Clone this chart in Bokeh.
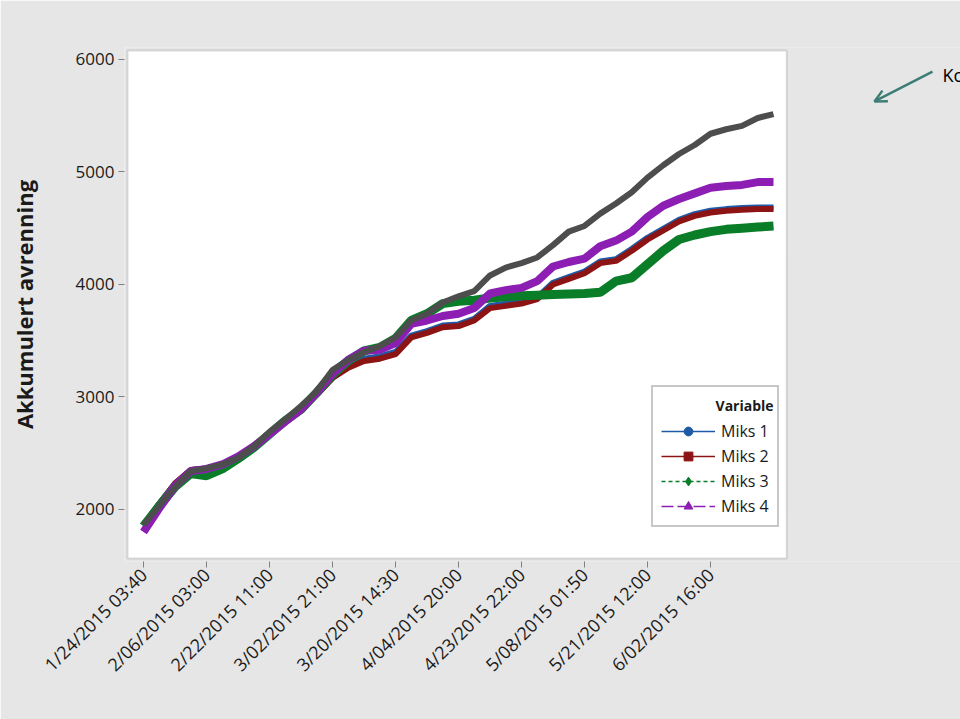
import math
from bokeh.plotting import figure
from bokeh.models import (ColumnDataSource, FixedTicker, Legend, LegendItem, Label,
                          Arrow, OpenHead, Range1d, BoxAnnotation)
from bokeh.embed import file_html
from bokeh.resources import INLINE

# ---------------- data ----------------
tick_labels = ["1/24/2015 03:40", "2/06/2015 03:00", "2/22/2015 11:00", "3/02/2015 21:00",
               "3/20/2015 14:30", "4/04/2015 20:00", "4/23/2015 22:00", "5/08/2015 01:50",
               "5/21/2015 12:00", "6/02/2015 16:00"]
tick_pos = [0, 1, 2, 3, 4, 5, 6, 7, 8, 9]

t = [i * 0.25 for i in range(41)]

miks2 = [1860, 2050, 2230, 2350, 2365, 2400, 2460, 2550, 2670, 2780, 2880, 3020, 3170,
         3260, 3320, 3340, 3380, 3530, 3570, 3620, 3630, 3680, 3790, 3810, 3830, 3870,
         4000, 4050, 4100, 4190, 4210, 4300, 4400, 4480, 4560, 4610, 4640, 4655, 4665,
         4670, 4670]
miks1 = [1860, 2050, 2230, 2350, 2365, 2400, 2460, 2550, 2670, 2780, 2880, 3020, 3170,
         3265, 3340, 3360, 3400, 3545, 3585, 3635, 3645, 3695, 3810, 3830, 3850, 3885,
         4015, 4065, 4115, 4205, 4225, 4315, 4415, 4495, 4575, 4625, 4655, 4670, 4680,
         4685, 4685]
miks3 = [1850, 2030, 2200, 2320, 2300, 2360, 2450, 2550, 2670, 2790, 2890, 3040, 3200,
         3320, 3410, 3440, 3520, 3680, 3740, 3830, 3850, 3860, 3880, 3890, 3900, 3905,
         3910, 3915, 3920, 3930, 4030, 4060, 4180, 4300, 4400, 4440, 4470, 4490, 4500,
         4510, 4520]
miks4 = [1800, 2010, 2210, 2340, 2360, 2400, 2470, 2560, 2670, 2780, 2890, 3040, 3210,
         3330, 3410, 3420, 3480, 3650, 3680, 3720, 3740, 3790, 3920, 3950, 3970, 4030,
         4160, 4200, 4230, 4340, 4390, 4470, 4600, 4700, 4760, 4810, 4860, 4875, 4885,
         4910, 4910]
total = [1860, 2030, 2200, 2340, 2365, 2400, 2460, 2560, 2690, 2800, 2920, 3050, 3240,
         3330, 3400, 3450, 3530, 3680, 3740, 3840, 3895, 3940, 4080, 4150, 4190, 4240,
         4350, 4470, 4520, 4630, 4720, 4820, 4950, 5060, 5160, 5240, 5340, 5380, 5410,
         5480, 5515]

series_names = ["Miks 1", "Miks 2", "Miks 3", "Miks 4"]
legend_title = "Variable"
side_text = "Ko"
colors = ["#1f5aa6", "#8c1414", "#0a7d28", "#8c1eb4"]
gray = "#4d4d4d"

BG = "#e6e6e6"
FONT = "Open Sans"
EDGE = "#8f8f8f"

X0, X1 = -0.254, 10.21       # visible plot box
Y0, Y1 = 1564, 6080
PAD_X = 3 / 63.0             # 3 px margin so the box border is not clipped
PAD_Y = 3 / 0.1125

p = figure(width=960, height=719, output_backend="svg", toolbar_location=None,
           x_range=Range1d(X0 - PAD_X, X0 - PAD_X + (960 - 124) / 63.0),
           y_range=Range1d(Y0 - PAD_Y, Y1 + PAD_Y),
           min_border_left=124, min_border_right=0, min_border_top=47,
           min_border_bottom=158)
p.background_fill_color = BG
p.border_fill_color = BG
p.outline_line_color = None
p.grid.visible = False

# white plot box with grey border
p.add_layout(BoxAnnotation(left=X0, right=X1, bottom=Y0, top=Y1, fill_color="white",
                           fill_alpha=1, line_color=EDGE, line_width=2,
                           level="underlay"))

src = ColumnDataSource(dict(t=t, m1=miks1, m2=miks2, m3=miks3, m4=miks4, tot=total))
p.line("t", "m1", source=src, line_color=colors[0], line_width=6)
p.line("t", "m2", source=src, line_color=colors[1], line_width=6)
p.line("t", "m3", source=src, line_color=colors[2], line_width=9)
p.line("t", "m4", source=src, line_color=colors[3], line_width=8)
p.line("t", "tot", source=src, line_color=gray, line_width=6)

# axes
p.xaxis.ticker = FixedTicker(ticks=tick_pos)
p.xaxis.major_label_overrides = {tp: lab for tp, lab in zip(tick_pos, tick_labels)}
p.xaxis.major_label_orientation = math.pi / 4
p.yaxis.ticker = FixedTicker(ticks=[2000, 3000, 4000, 5000, 6000])
for ax in (p.xaxis, p.yaxis):
    ax.axis_line_color = None
    ax.minor_tick_line_color = None
    ax.major_tick_line_color = "#808080"
    ax.major_tick_out = 6
    ax.major_tick_in = 0
    ax.major_label_text_font = FONT
    ax.major_label_text_font_size = "17px"
    ax.major_label_text_color = "#1a1a1a"
    ax.major_label_standoff = 4
p.xaxis.major_label_text_font_size = "18px"
p.yaxis.axis_label = "Akkumulert avrenning"
p.yaxis.axis_label_text_font = FONT
p.yaxis.axis_label_text_font_size = "22px"
p.yaxis.axis_label_text_font_style = "bold"
p.yaxis.axis_label_text_color = "#1a1a1a"
p.yaxis.axis_label_standoff = 34

# legend (off-range proxy renderers so the legend shows line + marker)
def proxy():
    return ColumnDataSource(dict(x=[-50, -49], y=[-5000, -5000]))

blank = p.line("x", "y", source=proxy(), line_alpha=0)
dashes = ["solid", "solid", "4 3", "12 4"]
markers = ["circle", "square", "diamond", "triangle"]
msizes = [11, 11, 14, 12]
items = [LegendItem(label=" ", renderers=[blank])]
for name, c, d, m, s in zip(series_names, colors, dashes, markers, msizes):
    lr = p.line("x", "y", source=proxy(), line_color=c, line_width=1.5, line_dash=d)
    sr = p.scatter("x", "y", source=proxy(), marker=m, size=s, fill_color=c, line_color=c)
    items.append(LegendItem(label=name, renderers=[lr, sr]))

legend = Legend(items=items, location=(527, 34), orientation="vertical",
                glyph_width=54, glyph_height=22, spacing=3, padding=8,
                label_standoff=6, label_text_font=FONT, label_text_font_size="16px",
                label_text_color="#1a1a1a", border_line_color=EDGE,
                border_line_width=2, background_fill_alpha=0)
p.add_layout(legend)
p.add_layout(Label(x=9.08, y=2924, text=legend_title, text_font=FONT,
                   text_font_size="14px", text_font_style="bold",
                   text_color="#1a1a1a", text_baseline="middle"))

# arrow + cut-off text to the right of the plot box
p.add_layout(Arrow(x_start=12.524, y_start=5893, x_end=11.603, y_end=5627,
                   line_color="#3e7d76", line_width=2.5,
                   end=OpenHead(size=12, line_color="#3e7d76", line_width=2.5)))
p.add_layout(Label(x=12.683, y=5858, text=side_text, text_font=FONT,
                   text_font_size="18px", text_color="black", text_baseline="middle"))

open("out.html", "w").write(file_html(p, INLINE))
